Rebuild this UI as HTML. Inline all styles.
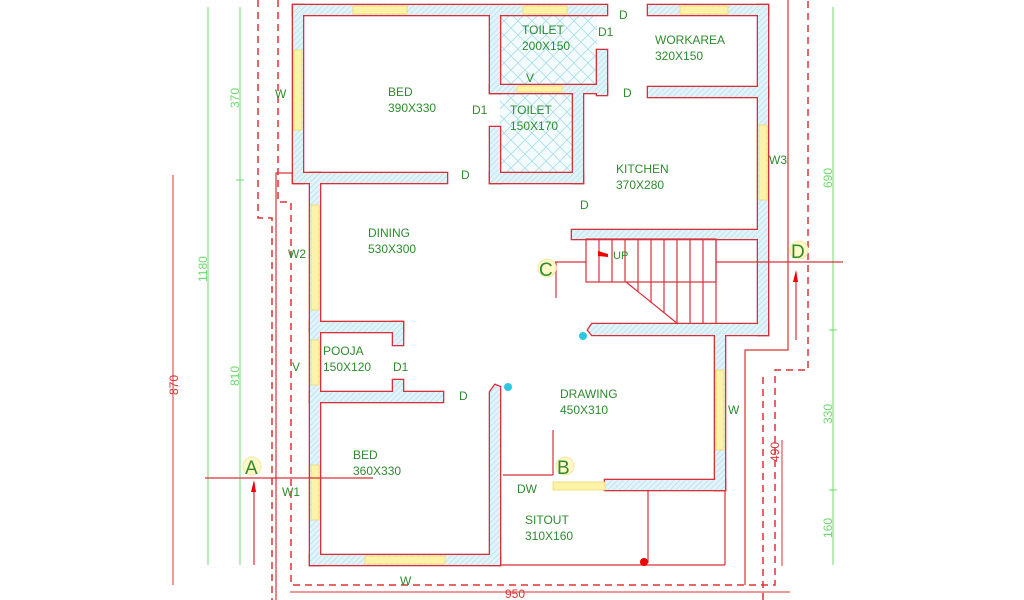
<!DOCTYPE html>
<html><head><meta charset="utf-8"><style>
html,body{margin:0;padding:0;background:#fff;}
svg{display:block}
text{font-family:"Liberation Sans",sans-serif;font-size:12px;fill:#2e8b2e;}
</style></head><body>
<svg width="1024" height="600" viewBox="0 0 1024 600" xmlns="http://www.w3.org/2000/svg">
<defs>
<pattern id="h" width="4" height="4" patternUnits="userSpaceOnUse" patternTransform="rotate(45)">
<rect width="4" height="4" fill="#e2f4f9"/><line x1="0" y1="0" x2="0" y2="4" stroke="#a6d9e8" stroke-width="1.1"/></pattern>
<pattern id="x" width="14" height="14" patternUnits="userSpaceOnUse">
<rect width="14" height="14" fill="#f3fbfd"/><path d="M0 7L7 0L14 7L7 14Z" fill="none" stroke="#a8dcea" stroke-width="0.8"/></pattern>
<g id="w">
<rect x="293" y="5" width="314" height="10"/>
<rect x="648" y="5" width="120" height="10"/>
<rect x="293" y="5" width="10" height="178"/>
<rect x="293" y="173" width="154" height="10"/>
<rect x="310" y="173" width="10" height="392"/>
<rect x="310" y="555" width="190" height="10"/>
<path d="M490 565V392L495 385L500 387V565Z"/>
<rect x="490" y="15" width="10" height="78"/>
<rect x="490" y="85" width="117" height="8"/>
<rect x="597" y="50" width="10" height="45"/>
<rect x="573" y="92" width="10" height="91"/>
<rect x="490" y="127" width="10" height="56"/>
<rect x="490" y="173" width="93" height="10"/>
<rect x="648" y="87" width="120" height="10"/>
<rect x="758" y="5" width="10" height="330"/>
<rect x="572" y="230" width="186" height="9"/>
<path d="M588 330L592 324H768V335H592Z"/>
<rect x="715" y="330" width="10" height="160"/>
<rect x="605" y="480" width="120" height="10"/>
<rect x="310" y="322" width="93" height="10"/>
<rect x="393" y="322" width="10" height="23"/>
<rect x="310" y="392" width="133" height="10"/>
<rect x="393" y="380" width="10" height="14"/>
</g>
</defs>
<rect width="1024" height="600" fill="#fff"/>

<g stroke="#6fd86f" stroke-width="1" fill="none">
<line x1="208" y1="7" x2="208" y2="565"/>
<line x1="240" y1="7" x2="240" y2="565"/>
<line x1="236" y1="180" x2="244" y2="180"/>
<line x1="833" y1="7" x2="833" y2="565"/>
<line x1="829" y1="330" x2="837" y2="330"/>
<line x1="829" y1="490" x2="837" y2="490"/>
</g>
<g stroke="#d33" stroke-width="1" fill="none">
<line x1="173" y1="175" x2="173" y2="585"/>
<line x1="782" y1="440" x2="782" y2="566"/>
<line x1="290" y1="592" x2="790" y2="592"/>
</g>
<g stroke="#d33" stroke-width="1.5" fill="none" stroke-dasharray="7,5">
<polyline points="258,0 258,218 272,218 272,600"/>
<polyline points="278,0 278,202 291,202 291,585 775,585 775,370 808,370 808,0"/>
<polyline points="763,600 763,372"/>
</g>
<g stroke="#d33" stroke-width="1.2" fill="none">
<polyline points="295,173 276,173 276,600"/>
<polyline points="788,0 788,350 745,350 745,585"/>
</g>

<rect x="500" y="15" width="97" height="70" fill="url(#x)"/>
<rect x="500" y="93" width="73" height="80" fill="url(#x)"/>

<use href="#w" fill="#d8303a" stroke="#d8303a" stroke-width="2.6"/>
<use href="#w" fill="url(#h)" stroke="none"/>

<g fill="#fbf3a8" stroke="#f0d870" stroke-width="0.8">
<rect x="353" y="6" width="54" height="8"/>
<rect x="523" y="6" width="44" height="8"/>
<rect x="680" y="6" width="48" height="8"/>
<rect x="294" y="50" width="8" height="80"/>
<rect x="759" y="125" width="8" height="75"/>
<rect x="311" y="205" width="8" height="105"/>
<rect x="311" y="340" width="8" height="45"/>
<rect x="311" y="465" width="8" height="55"/>
<rect x="365" y="556" width="80" height="8"/>
<rect x="716" y="370" width="8" height="80"/>
<rect x="553" y="482" width="52" height="8"/>
<rect x="517" y="86" width="45" height="6"/>
</g>

<g stroke="#d8303a" stroke-width="1.2" fill="none">
<rect x="586" y="239" width="130" height="43"/>
<line x1="599" y1="239" x2="599" y2="282"/><line x1="612" y1="239" x2="612" y2="282"/>
<line x1="625" y1="239" x2="625" y2="282"/>
<line x1="638" y1="239" x2="638" y2="292"/><line x1="651" y1="239" x2="651" y2="303"/>
<line x1="664" y1="239" x2="664" y2="313"/><line x1="677" y1="239" x2="677" y2="324"/>
<line x1="690" y1="239" x2="690" y2="324"/><line x1="703" y1="239" x2="703" y2="324"/>
<line x1="716" y1="239" x2="716" y2="324"/>
<line x1="626" y1="282" x2="678" y2="324"/>
<line x1="555" y1="262" x2="586" y2="262"/>
<line x1="716" y1="262" x2="843" y2="262"/>
<line x1="556" y1="262" x2="556" y2="298"/>
<line x1="205" y1="478" x2="373" y2="478"/>
<line x1="503" y1="475" x2="553" y2="475"/><line x1="553" y1="475" x2="553" y2="430"/>
<line x1="725" y1="490" x2="725" y2="565"/>
<line x1="500" y1="565" x2="725" y2="565"/>
<line x1="648" y1="490" x2="648" y2="563"/>
<line x1="254" y1="482" x2="254" y2="565"/>
<line x1="796" y1="272" x2="796" y2="340"/>
</g>
<path d="M598 251L608 254L608 257L598 256Z" fill="#e00"/>
<path d="M251 492L254 480L256 492Z" fill="#e00"/>
<path d="M793 282L796 270L798 282Z" fill="#e00"/>
<circle cx="644" cy="562" r="4" fill="#e00"/>
<circle cx="583" cy="336" r="4" fill="#2cc8e0"/>
<circle cx="508" cy="387" r="4" fill="#2cc8e0"/>

<g fill="#fff9c8" stroke="#f2e9a0">
<circle cx="252" cy="466" r="9"/><circle cx="565" cy="466" r="9"/>
<circle cx="547" cy="268" r="9"/><circle cx="799" cy="250" r="9"/>
</g>
<text x="245" y="474" style="font-size:19px">A</text>
<text x="557" y="474" style="font-size:19px">B</text>
<text x="539" y="276" style="font-size:19px">C</text>
<text x="791" y="258" style="font-size:19px">D</text>

<text x="522" y="34">TOILET</text><text x="522" y="50">200X150</text>
<text x="598" y="36">D1</text>
<text x="655" y="44">WORKAREA</text><text x="655" y="60">320X150</text>
<text x="619" y="19">D</text>
<text x="388" y="96">BED</text><text x="388" y="112">390X330</text>
<text x="472" y="114">D1</text>
<text x="510" y="114">TOILET</text><text x="510" y="130">150X170</text>
<text x="526" y="82">V</text>
<text x="623" y="97">D</text>
<text x="275" y="98">W</text>
<text x="616" y="173">KITCHEN</text><text x="616" y="189">370X280</text>
<text x="769" y="164">W3</text>
<text x="461" y="179">D</text>
<text x="580" y="209">D</text>
<text x="368" y="237">DINING</text><text x="368" y="253">530X300</text>
<text x="288" y="258">W2</text>
<text x="613" y="259" style="font-size:11px">UP</text>
<text x="323" y="355">POOJA</text><text x="323" y="371">150X120</text>
<text x="393" y="371">D1</text>
<text x="292" y="371">V</text>
<text x="459" y="400">D</text>
<text x="560" y="398">DRAWING</text><text x="560" y="414">450X310</text>
<text x="728" y="414">W</text>
<text x="353" y="459">BED</text><text x="353" y="475">360X330</text>
<text x="282" y="496">W1</text>
<text x="517" y="493">DW</text>
<text x="525" y="524">SITOUT</text><text x="525" y="540">310X160</text>
<text x="400" y="585">W</text>
<text x="505" y="598" style="fill:#d33">950</text>
<text transform="translate(239,108) rotate(-90)" style="fill:#6fd86f">370</text>
<text transform="translate(239,386) rotate(-90)" style="fill:#6fd86f">810</text>
<text transform="translate(207,282) rotate(-90)" style="fill:#6fd86f">1180</text>
<text transform="translate(178,395) rotate(-90)" style="fill:#d33">870</text>
<text transform="translate(832,188) rotate(-90)" style="fill:#6fd86f">690</text>
<text transform="translate(832,424) rotate(-90)" style="fill:#6fd86f">330</text>
<text transform="translate(832,538) rotate(-90)" style="fill:#6fd86f">160</text>
<text transform="translate(779,462) rotate(-90)" style="fill:#d33">490</text>
</svg>
</body></html>
